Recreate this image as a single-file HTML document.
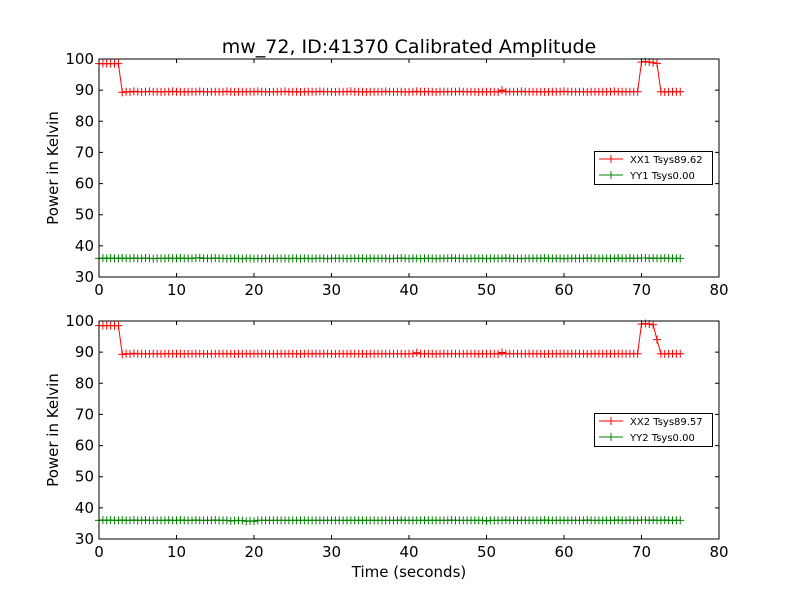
<!DOCTYPE html>
<html><head><meta charset="utf-8"><style>
body{margin:0;background:#fff}
svg text{font-family:"DejaVu Sans","Liberation Sans",sans-serif}
</style></head><body>
<svg id="c" width="800" height="600" xmlns="http://www.w3.org/2000/svg">
<rect width="800" height="600" fill="#fff"/>
<text x="409" y="53" font-size="19" text-anchor="middle">mw_72, ID:41370 Calibrated Amplitude</text>
<text x="409" y="577" font-size="15" text-anchor="middle">Time (seconds)</text>
</svg>
<script>
const xTicks=[0,10,20,30,40,50,60,70,80];
const yTicks=[30,40,50,60,70,80,90,100];
const tStart=0, tStep=0.5;
const xx1=[98.5,98.5,98.5,98.5,98.5,98.5,89.3,89.5,89.4,89.6,
89.5,89.4,89.5,89.6,89.5,89.5,89.4,89.5,89.5,89.6,
89.5,89.5,89.4,89.5,89.5,89.5,89.6,89.5,89.4,89.5,
89.5,89.5,89.5,89.6,89.5,89.4,89.5,89.5,89.5,89.5,
89.5,89.6,89.5,89.5,89.4,89.5,89.5,89.5,89.6,89.5,
89.5,89.5,89.4,89.5,89.5,89.5,89.5,89.6,89.5,89.5,
89.5,89.4,89.5,89.5,89.5,89.6,89.5,89.5,89.5,89.4,
89.5,89.5,89.5,89.5,89.6,89.5,89.5,89.5,89.5,89.4,
89.5,89.5,89.6,89.5,89.5,89.5,89.5,89.4,89.5,89.5,
89.5,89.5,89.5,89.6,89.5,89.5,89.5,89.5,89.4,89.5,
89.5,89.5,89.5,89.4,90.0,89.5,89.5,89.5,89.5,89.6,
89.5,89.5,89.5,89.5,89.5,89.4,89.5,89.5,89.5,89.5,
89.6,89.5,89.5,89.5,89.5,89.5,89.4,89.5,89.5,89.5,
89.5,89.5,89.5,89.6,89.5,89.5,89.5,89.5,89.5,89.5,
99.0,99.2,99.0,98.8,98.6,89.5,89.4,89.5,89.5,89.5,
89.5];
const yy1=[36.0,36.1,36.0,36.1,36.0,36.0,36.1,36.0,36.0,36.1,
36.0,36.0,36.1,36.0,35.9,36.0,36.0,36.0,36.1,36.0,
36.0,36.1,36.0,36.0,36.0,36.1,36.2,36.0,36.0,36.0,
36.1,36.0,36.0,35.9,36.0,36.0,36.0,35.9,36.0,36.0,
35.9,36.0,35.9,36.0,36.0,35.9,36.0,36.0,36.0,35.9,
36.0,36.0,35.9,36.0,36.0,35.9,36.0,36.0,36.0,35.9,
36.0,36.0,36.0,36.0,35.9,36.0,36.0,36.0,36.0,35.9,
36.0,36.0,36.0,36.0,36.0,35.9,36.0,36.0,36.1,36.0,
35.9,36.0,36.0,35.9,36.0,36.0,36.0,35.9,36.0,36.0,
36.0,36.1,36.0,36.0,36.0,35.9,36.0,36.0,36.0,36.0,
35.9,36.0,36.0,36.0,36.0,36.1,36.0,36.0,36.0,35.9,
36.0,36.0,36.0,36.0,36.0,36.1,36.0,36.0,36.0,36.0,
35.9,36.0,36.0,36.0,36.0,36.0,36.1,36.0,36.0,36.0,
36.0,36.0,36.0,36.0,36.1,36.0,36.0,36.1,36.0,36.0,
36.1,36.1,36.0,36.1,36.0,36.0,36.1,36.0,36.0,36.0,
36.0];
const xx2=[98.5,98.5,98.5,98.5,98.5,98.5,89.3,89.5,89.4,89.6,
89.5,89.5,89.4,89.5,89.5,89.5,89.4,89.5,89.5,89.5,
89.5,89.5,89.4,89.5,89.5,89.5,89.5,89.5,89.4,89.5,
89.5,89.5,89.5,89.5,89.5,89.4,89.5,89.5,89.5,89.5,
89.5,89.5,89.5,89.5,89.4,89.5,89.5,89.5,89.5,89.5,
89.5,89.5,89.4,89.5,89.5,89.5,89.5,89.5,89.5,89.5,
89.5,89.4,89.5,89.5,89.5,89.5,89.5,89.5,89.5,89.4,
89.5,89.5,89.5,89.5,89.5,89.5,89.5,89.5,89.5,89.4,
89.5,89.5,89.8,89.5,89.5,89.5,89.5,89.4,89.5,89.5,
89.5,89.5,89.5,89.5,89.5,89.5,89.5,89.5,89.4,89.5,
89.5,89.5,89.5,89.4,89.9,89.5,89.5,89.5,89.5,89.5,
89.5,89.5,89.5,89.5,89.5,89.4,89.5,89.5,89.5,89.5,
89.5,89.5,89.5,89.5,89.5,89.5,89.4,89.5,89.5,89.5,
89.5,89.5,89.5,89.5,89.5,89.5,89.5,89.5,89.5,89.5,
99.0,99.2,99.0,98.8,94.0,89.5,89.4,89.5,89.5,89.5,
89.5];
const yy2=[36.0,36.1,36.0,36.1,36.0,36.0,36.1,36.0,36.0,36.1,
36.0,36.0,36.1,36.0,36.0,36.0,36.0,36.0,36.1,36.0,
36.0,36.1,36.0,36.0,36.0,36.1,36.0,36.0,36.0,36.0,
36.1,36.0,36.0,36.0,35.8,35.9,36.0,35.9,35.7,35.8,
35.7,36.0,36.0,36.0,36.0,36.0,36.0,36.0,36.0,36.0,
36.0,36.0,36.0,36.0,36.0,36.0,36.0,36.0,36.0,36.0,
36.0,36.0,36.0,36.0,36.0,36.0,36.0,36.0,36.0,36.0,
36.0,36.0,36.0,36.0,36.0,36.0,36.0,36.0,36.1,36.0,
36.0,36.0,36.0,36.0,36.0,36.0,36.0,36.0,36.0,36.0,
36.0,36.1,36.0,36.0,36.0,36.0,36.0,36.0,36.0,36.0,
35.8,36.0,36.0,36.0,36.0,36.1,36.0,36.0,36.0,36.0,
36.0,36.0,36.0,36.0,36.0,36.1,36.0,36.0,36.0,36.0,
36.0,36.0,36.0,36.0,36.0,36.0,36.1,36.0,36.0,36.0,
36.0,36.0,36.0,36.0,36.1,36.0,36.0,36.1,36.0,36.0,
36.1,36.1,36.0,36.1,36.0,36.0,36.1,36.0,36.0,36.0,
36.0];
const labels1=["XX1 Tsys89.62","YY1 Tsys0.00"];
const labels2=["XX2 Tsys89.57","YY2 Tsys0.00"];

const svg=document.getElementById('c');
const NS="http://www.w3.org/2000/svg";
function mk(tag,attrs,parent){const e=document.createElementNS(NS,tag);for(const k in attrs)e.setAttribute(k,attrs[k]);(parent||svg).appendChild(e);return e;}
const L=99,R=719,W=R-L;
function xs(v){return L+(v-0)/(80-0)*W;}

function panel(top,bot,sA,sB,labels,id,legTop){
  const ys=v=>bot-(v-30)/(100-30)*(bot-top);
  const g=mk('g',{});
  
  
  [[sA,'#ff0000','xx'],[sB,'#008000','yy']].forEach(([s,col,nm])=>{
    const pts=s.map((v,i)=>xs(tStart+i*tStep).toFixed(1)+','+ys(v).toFixed(1)).join(' ');
    const pl=mk('polyline',{points:pts,fill:'none',stroke:col,'stroke-width':1},g);
    
    
    let d='';
    s.forEach((v,i)=>{const x=xs(tStart+i*tStep),y=ys(v);d+=`M${x-4},${y}h8M${x},${y-4}v8`;});
    const m=mk('path',{d:d,stroke:col,'stroke-width':1,fill:'none'},g);
    
    
  });
  const fr=mk('rect',{x:L,y:top,width:W,height:bot-top,fill:'none',stroke:'#000','stroke-width':1},g);
  
  
  xTicks.forEach(t=>{
    const x=xs(t);
    mk('path',{d:`M${x},${bot}v-4M${x},${top}v4`,stroke:'#000'},g);
    const tx=mk('text',{x:x,y:bot+18,'font-size':15,'text-anchor':'middle'},g);
    tx.textContent=t;
    
    
  });
  yTicks.forEach(t=>{
    const y=ys(t);
    mk('path',{d:`M${L},${y}h4M${R},${y}h-4`,stroke:'#000'},g);
    const tx=mk('text',{x:L-5,y:y+5,'font-size':15,'text-anchor':'end'},g);
    tx.textContent=t;
    
    
  });
  const yt=mk('text',{x:58,y:(top+bot)/2,'font-size':15,'text-anchor':'middle',transform:`rotate(-90 58 ${(top+bot)/2})`},g);
  yt.textContent='Power in Kelvin';
  
  
  const lg=mk('g',{},g);
  
  
  mk('rect',{x:594.5,y:legTop+0.5,width:118,height:33,fill:'#fff',stroke:'#000'},lg);
  [['#ff0000',labels[0]],['#008000',labels[1]]].forEach(([col,lab],i)=>{
    const y=legTop+8+i*16;
    const e=mk('g',{},lg);
    
    
    mk('path',{d:`M599,${y}h24M611,${y-4}v8M607,${y}h8`,stroke:col},e);
    const tx=mk('text',{x:630,y:y+4,'font-size':10},e);
    tx.textContent=lab;
  });
}
panel(59,277,xx1,yy1,labels1,'top',151);
panel(321,539,xx2,yy2,labels2,'bottom',413);
</script>
</body></html>
